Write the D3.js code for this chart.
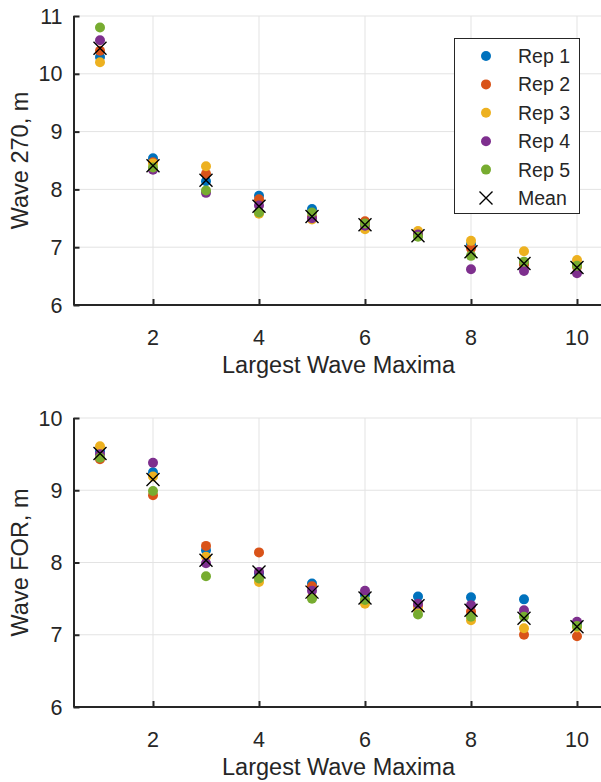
<!DOCTYPE html>
<html>
<head>
<meta charset="utf-8">
<script src="https://cdn.jsdelivr.net/npm/d3@7/dist/d3.min.js"></script>
<style>
  html, body { margin: 0; padding: 0; background: #fff; }
  svg { display: block; }
  text { font-family: "Liberation Sans", Arial, Helvetica, sans-serif; fill: #262626; }
</style>
</head>
<body>
<svg id="chart" width="601" height="782"></svg>
<script>
// ---- data ----
const categories = [1, 2, 3, 4, 5, 6, 7, 8, 9, 10];
const seriesNames = ["Rep 1", "Rep 2", "Rep 3", "Rep 4", "Rep 5"];
const seriesColors = ["#0072BD", "#D95319", "#EDB120", "#7E2F8E", "#77AC30"];
const meanName = "Mean";

// Wave 270
const rep1_270 = [10.29, 8.54, 8.14, 7.89, 7.66, 7.40, 7.20, 7.05, 6.72, 6.70];
const rep2_270 = [10.40, 8.47, 8.27, 7.83, 7.52, 7.45, 7.21, 6.98, 6.70, 6.66];
const rep3_270 = [10.20, 8.45, 8.40, 7.58, 7.48, 7.31, 7.28, 7.11, 6.93, 6.78];
const rep4_270 = [10.58, 8.34, 7.94, 7.72, 7.50, 7.37, 7.22, 6.62, 6.59, 6.55];
const rep5_270 = [10.80, 8.38, 7.98, 7.60, 7.60, 7.41, 7.18, 6.85, 6.75, 6.68];
const mean_270 = [10.44, 8.41, 8.16, 7.71, 7.53, 7.39, 7.20, 6.92, 6.72, 6.65];

// Wave FOR
const rep1_for = [9.54, 9.25, 8.17, 7.85, 7.71, 7.55, 7.53, 7.52, 7.49, 7.15];
const rep2_for = [9.43, 8.93, 8.23, 8.14, 7.67, 7.47, 7.40, 7.32, 7.00, 6.98];
const rep3_for = [9.61, 9.19, 8.08, 7.73, 7.52, 7.43, 7.35, 7.20, 7.09, 7.10];
const rep4_for = [9.50, 9.38, 7.99, 7.87, 7.61, 7.61, 7.43, 7.41, 7.34, 7.18];
const rep5_for = [9.45, 8.99, 7.81, 7.78, 7.50, 7.48, 7.28, 7.25, 7.25, 7.12];
const mean_for = [9.51, 9.15, 8.03, 7.87, 7.59, 7.51, 7.40, 7.34, 7.23, 7.11];

const xTicks = [2, 4, 6, 8, 10];
const yTicks270 = [6, 7, 8, 9, 10, 11];
const yTicksFor = [6, 7, 8, 9, 10];
const xLabel = "Largest Wave Maxima";
const yLabel270 = "Wave 270, m";
const yLabelFor = "Wave FOR, m";

// ---- drawing ----
const svg = d3.select("#chart");
const AX = "#262626", GRID = "#e3e3e3";

function panel(opts) {
  const { top, bottom, yDomain, yTicks, reps, mean, ylab, legend } = opts;
  const x = d3.scaleLinear().domain([0.5, 10.5]).range([73.5, 603.5]);
  const y = d3.scaleLinear().domain(yDomain).range([bottom, top]);
  const g = svg.append("g");

  // grid
  g.append("g").selectAll("line").data(xTicks).join("line")
    .attr("x1", d => x(d)).attr("x2", d => x(d)).attr("y1", top).attr("y2", bottom)
    .attr("stroke", GRID).attr("stroke-width", 1);
  g.append("g").selectAll("line").data(yTicks).join("line")
    .attr("x1", x(0.5)).attr("x2", x(10.5)).attr("y1", d => y(d)).attr("y2", d => y(d))
    .attr("stroke", GRID).attr("stroke-width", 1);

  // axes (ticks inward)
  const xAxis = d3.axisTop(x).tickValues(xTicks).tickSize(6).tickFormat("");
  const gx = g.append("g").attr("transform", `translate(0,${bottom})`).call(xAxis);
  const yAxis = d3.axisRight(y).tickValues(yTicks).tickSize(6).tickFormat("");
  const gy = g.append("g").attr("transform", `translate(${x(0.5)},0)`).call(yAxis);
  [gx, gy].forEach(a => {
    a.select(".domain").attr("stroke", AX).attr("stroke-width", 2);
    a.selectAll(".tick line").attr("stroke", AX).attr("stroke-width", 2);
  });
  gy.select(".domain").attr("d", `M0.5,${bottom}V${top}`);
  gx.select(".domain").attr("d", `M${x(0.5)},0H${x(10.5)}`);

  // tick labels
  g.append("g").selectAll("text").data(xTicks).join("text")
    .attr("x", d => x(d)).attr("y", bottom + 40)
    .attr("text-anchor", "middle").attr("font-size", 21.5).text(d => d);
  g.append("g").selectAll("text").data(yTicks).join("text")
    .attr("x", x(0.5) - 11).attr("y", d => y(d) + 7.5)
    .attr("text-anchor", "end").attr("font-size", 21.5).text(d => d);

  // axis labels
  g.append("text").attr("x", (73.5 + 603.5) / 2).attr("y", bottom + 68)
    .attr("text-anchor", "middle").attr("font-size", 23.5).text(xLabel);
  g.append("text").attr("transform", `translate(28,${(top + bottom) / 2}) rotate(-90)`)
    .attr("text-anchor", "middle").attr("font-size", 23.5).text(ylab);

  // points
  reps.forEach((vals, i) => {
    g.append("g").selectAll("circle").data(categories).join("circle")
      .attr("cx", (d) => x(d)).attr("cy", (d, j) => y(vals[j])).attr("r", 5)
      .attr("fill", seriesColors[i]);
  });
  const s = 6.5;
  g.append("g").selectAll("path").data(categories).join("path")
    .attr("d", (d, j) => {
      const cx = x(d), cy = y(mean[j]);
      return `M${cx - s},${cy - s}L${cx + s},${cy + s}M${cx - s},${cy + s}L${cx + s},${cy - s}`;
    })
    .attr("stroke", "#000").attr("stroke-width", 1.4).attr("fill", "none");

  if (legend) {
    const lx = 454, ly = 38, lw = 125, lh = 175;
    const lg = svg.append("g");
    lg.append("rect").attr("x", lx + 0.5).attr("y", ly + 0.5).attr("width", lw).attr("height", lh)
      .attr("fill", "#fff").attr("stroke", "#262626").attr("stroke-width", 1);
    const items = seriesNames.map((n, i) => ({ n, c: seriesColors[i], mean: false }))
      .concat([{ n: meanName, c: "#000", mean: true }]);
    const ey = d3.scaleLinear().domain([0, 5]).range([ly + 18, ly + 160]);
    items.forEach((it, i) => {
      const cy = ey(i);
      if (it.mean) {
        lg.append("path")
          .attr("d", `M${486 - s},${cy - s}L${486 + s},${cy + s}M${486 - s},${cy + s}L${486 + s},${cy - s}`)
          .attr("stroke", "#000").attr("stroke-width", 1.4);
      } else {
        lg.append("circle").attr("cx", 486).attr("cy", cy).attr("r", 5).attr("fill", it.c);
      }
      lg.append("text").attr("x", 518).attr("y", cy + 7).attr("font-size", 19.5).text(it.n);
    });
  }
}

panel({ top: 16, bottom: 305, yDomain: [6, 11], yTicks: yTicks270,
  reps: [rep1_270, rep2_270, rep3_270, rep4_270, rep5_270], mean: mean_270,
  ylab: yLabel270, legend: true });
panel({ top: 418, bottom: 707, yDomain: [6, 10], yTicks: yTicksFor,
  reps: [rep1_for, rep2_for, rep3_for, rep4_for, rep5_for], mean: mean_for,
  ylab: yLabelFor, legend: false });
</script>
</body>
</html>
